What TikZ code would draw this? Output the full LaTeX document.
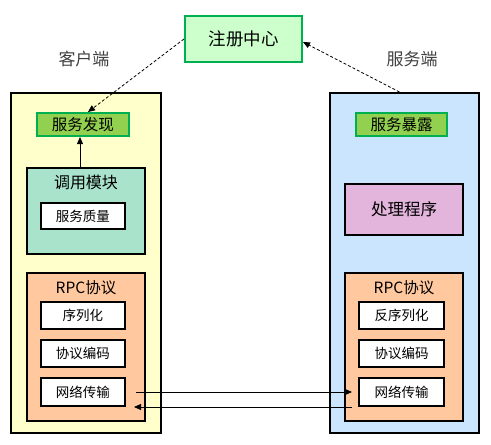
\documentclass[tikz,border=0pt]{standalone}
\usepackage{fontspec}
\setmainfont{Noto Sans CJK SC}
\usetikzlibrary{arrows.meta}
\definecolor{regfill}{HTML}{CCFFCC}
\definecolor{gborder}{HTML}{00B050}
\definecolor{discfill}{HTML}{92D050}
\definecolor{clientfill}{HTML}{FFFFCC}
\definecolor{serverfill}{HTML}{CCE5FF}
\definecolor{invokefill}{HTML}{AAE3CC}
\definecolor{handlerfill}{HTML}{E3B5DC}
\definecolor{rpcfill}{HTML}{FFC89E}
\tikzset{
  fs/.style={font=\fontsize{#1}{#1}\selectfont},
  blk/.style={draw=black, line width=2pt, inner sep=0pt},
  gbox/.style={draw=gborder, line width=2pt, inner sep=0pt},
  item/.style={blk, fill=white, minimum width=84pt, fs=13.5},
  conn/.style={line width=0.8pt, -{Triangle[width=6pt,length=7pt]}},
  dconn/.style={line width=0.8pt, dash pattern=on 3pt off 2pt, -{Triangle[width=6pt,length=7pt]}},
}
\begin{document}
\begin{tikzpicture}[x=1pt,y=-1pt]
\useasboundingbox (0,0) rectangle (491,445);
% registry
\node[gbox, fill=regfill, minimum width=117pt, minimum height=46pt, fs=17.5] (reg) at (243.5,39) {注册中心};
% side labels
\node[text=black!75, fs=17] (clab) at (84,59) {客户端};
\node[text=black!75, fs=17] (slab) at (412,59) {服务端};
% outer boxes
\node[blk, fill=clientfill, minimum width=150pt, minimum height=340pt] (client) at (86,263) {};
\node[blk, fill=serverfill, minimum width=149pt, minimum height=340pt] (server) at (404.5,263) {};
% discovery / exposure
\node[gbox, fill=discfill, minimum width=92pt, minimum height=23pt, fs=15.5] (cdisc) at (83,124.5) {服务发现};
\node[gbox, fill=discfill, minimum width=91pt, minimum height=23pt, fs=15.5] (sexp) at (401.5,124.5) {服务暴露};
% invoke module
\node[blk, fill=invokefill, minimum width=118pt, minimum height=86pt] (inv) at (86,211) {};
\node[fs=16] (invlab) at (86,182) {调用模块};
\node[item, minimum height=26pt] (qos) at (83,216) {服务质量};
% handler
\node[blk, fill=handlerfill, minimum width=118pt, minimum height=51pt, fs=16.5] (hdl) at (404,209.5) {处理程序};
% client rpc
\node[blk, fill=rpcfill, minimum width=118pt, minimum height=148pt] (crpc) at (86,347) {};
\node[fs=15.5] (crpclab) at (86,288) {RPC协议};
\node[item, minimum height=27pt] (cser) at (83,315.5) {序列化};
\node[item, minimum height=27pt] (cenc) at (83,353.5) {协议编码};
\node[item, minimum height=28pt] (cnet) at (83,392) {网络传输};
% server rpc
\node[blk, fill=rpcfill, minimum width=118pt, minimum height=148pt] (srpc) at (404,347) {};
\node[fs=15.5] (srpclab) at (404,288) {RPC协议};
\node[item, minimum width=85pt, minimum height=27pt] (sser) at (401.5,315.5) {反序列化};
\node[item, minimum width=85pt, minimum height=27pt] (senc) at (401.5,353.5) {协议编码};
\node[item, minimum width=85pt, minimum height=28pt] (snet) at (401.5,392) {网络传输};
% connectors
\draw[conn] ([xshift=-6pt]inv.north) -- ([xshift=-3pt]cdisc.south);
\draw[dconn] (reg.west) -- ([xshift=5pt]cdisc.north);
\draw[dconn] ([xshift=-5pt]server.north) -- ([yshift=-3pt]reg.east);
\draw[conn] ([xshift=10pt]cnet.east) -- ([xshift=-6pt]snet.west);
\draw[conn] ([xshift=-6pt]snet.south west) -- ([xshift=8pt]cnet.south east);
\end{tikzpicture}
\end{document}
